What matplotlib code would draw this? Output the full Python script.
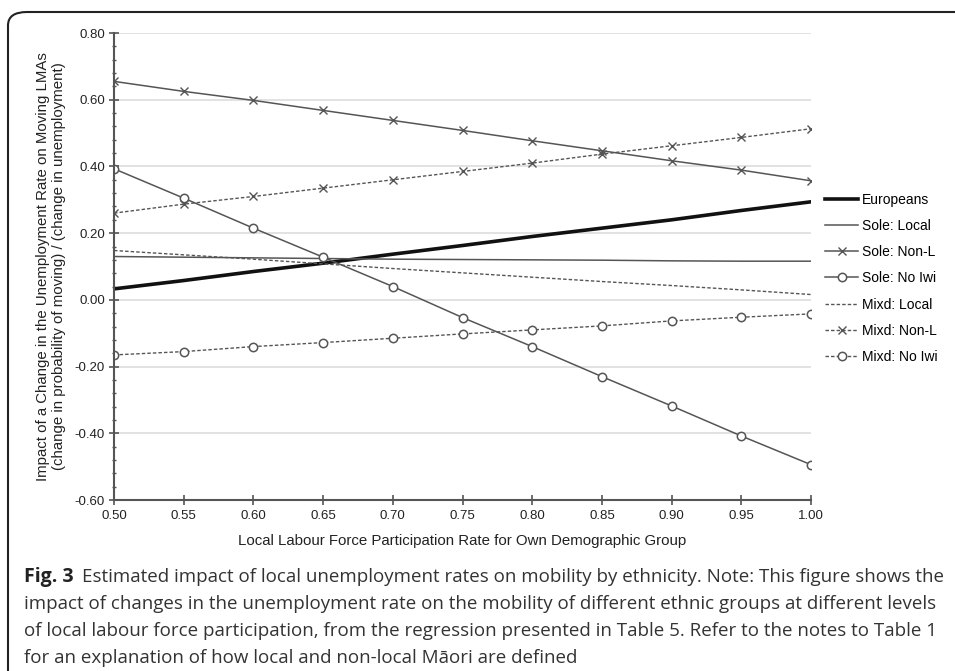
import matplotlib.pyplot as plt
from matplotlib.patches import FancyBboxPatch
from matplotlib.ticker import MultipleLocator

plt.rcParams['font.family'] = ['Liberation Sans', 'DejaVu Sans']

# data
lfp = [0.50, 0.55, 0.60, 0.65, 0.70, 0.75, 0.80, 0.85, 0.90, 0.95, 1.00]
europeans = [0.033, 0.058, 0.085, 0.110, 0.137, 0.163, 0.190, 0.215, 0.240, 0.268, 0.294]
sole_local = [0.130, 0.128, 0.126, 0.124, 0.122, 0.121, 0.120, 0.119, 0.117, 0.116, 0.116]
sole_nonl = [0.655, 0.625, 0.598, 0.568, 0.538, 0.508, 0.477, 0.447, 0.417, 0.389, 0.357]
sole_noiwi = [0.393, 0.305, 0.215, 0.128, 0.040, -0.053, -0.140, -0.230, -0.318, -0.408, -0.494]
mixd_local = [0.148, 0.135, 0.122, 0.108, 0.094, 0.081, 0.068, 0.055, 0.043, 0.030, 0.016]
mixd_nonl = [0.260, 0.287, 0.310, 0.335, 0.360, 0.385, 0.410, 0.437, 0.462, 0.487, 0.513]
mixd_noiwi = [-0.165, -0.155, -0.140, -0.128, -0.115, -0.102, -0.090, -0.078, -0.063, -0.052, -0.042]

fig = plt.figure(figsize=(9.55, 6.71), dpi=100)
ax = fig.add_axes([0.1194, 0.2548, 0.7298, 0.696])

grey = '#555555'
dash = (0, (2.5, 1.5))
ax.plot(lfp, europeans, color='#111111', lw=2.6, label='Europeans')
ax.plot(lfp, sole_local, color=grey, lw=1.1, label='Sole: Local')
ax.plot(lfp, sole_nonl, color=grey, lw=1.1, marker='x', ms=5.5, mew=1.0, label='Sole: Non-L')
ax.plot(lfp, sole_noiwi, color=grey, lw=1.1, marker='o', ms=6, mfc='white', mew=1.1, label='Sole: No Iwi')
ax.plot(lfp, mixd_local, color=grey, lw=1.0, ls=dash, label='Mixd: Local')
ax.plot(lfp, mixd_nonl, color=grey, lw=1.0, ls=dash, marker='x', ms=5.5, mew=1.0, label='Mixd: Non-L')
ax.plot(lfp, mixd_noiwi, color=grey, lw=1.0, ls=dash, marker='o', ms=6, mfc='white', mew=1.1, label='Mixd: No Iwi')

ax.set_xlim(0.5, 1.0)
ax.set_ylim(-0.6, 0.8)
ax.set_xticks(lfp)
ax.set_xticklabels(['%.2f' % v for v in lfp])
ax.yaxis.set_major_locator(MultipleLocator(0.2))
ax.yaxis.set_minor_locator(MultipleLocator(0.04))
ax.set_yticklabels(['%.2f' % v for v in ax.get_yticks()])
ax.grid(axis='y', color='#dddddd', lw=1.2)
ax.set_axisbelow(True)
for s in ['top', 'right']:
    ax.spines[s].set_visible(False)
for s in ['left', 'bottom']:
    ax.spines[s].set_color('#555555')
    ax.spines[s].set_linewidth(1.5)
ax.tick_params(axis='x', direction='inout', length=7, width=1.2, color='#555555', labelsize=9.5, labelcolor='#222222', pad=4)
ax.tick_params(axis='y', which='major', direction='inout', length=7, width=1.2, color='#555555', labelsize=9.5, labelcolor='#222222', pad=3)
ax.tick_params(axis='y', which='minor', direction='inout', length=3, width=1.0, color='#555555')

ax.set_xlabel('Local Labour Force Participation Rate for Own Demographic Group', fontsize=10.8, color='#222222', labelpad=8)
ax.set_ylabel('Impact of a Change in the Unemployment Rate on Moving LMAs\n(change in probability of moving) / (change in unemployment)',
              fontsize=10.8, color='#222222', labelpad=6)

ax.legend(loc='upper left', bbox_to_anchor=(1.012, 0.67), frameon=False, fontsize=10,
          handlelength=2.4, handletextpad=0.25, labelspacing=0.88, borderaxespad=0)

# caption
fig.text(24 / 955, 1 - 577 / 671, 'Fig. 3', fontsize=14, fontweight='bold', family='Open Sans',
         color='#222222', va='center')
lines = ['Estimated impact of local unemployment rates on mobility by ethnicity. Note: This figure shows the',
         'impact of changes in the unemployment rate on the mobility of different ethnic groups at different levels',
         'of local labour force participation, from the regression presented in Table 5. Refer to the notes to Table 1',
         'for an explanation of how local and non-local M\u0101ori are defined']
fig.text(82 / 955, 1 - 577 / 671, lines[0], fontsize=13.5, family='Open Sans', color='#333333', va='center')
for i, ln in enumerate(lines[1:]):
    fig.text(24 / 955, 1 - (604 + 27 * i) / 671, ln, fontsize=13.5, family='Open Sans', color='#333333', va='center')

# frame
box = FancyBboxPatch((8 / 955, 1 - 700 / 671), 1.2, (700 - 12) / 671,
                     boxstyle='round,pad=0,rounding_size=0.02', transform=fig.transFigure,
                     fill=False, ec='#222222', lw=1.5, clip_on=False)
fig.patches.append(box)

fig.savefig('out.png', dpi=100)
